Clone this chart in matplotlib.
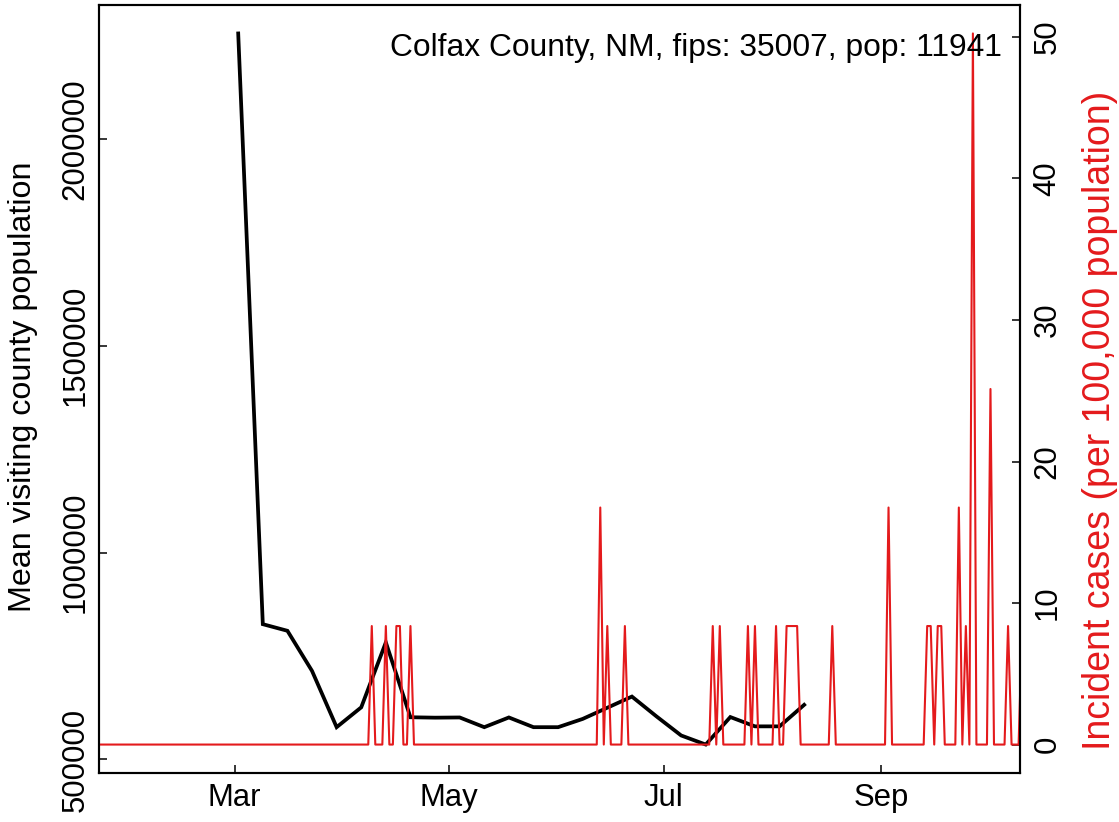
import matplotlib
matplotlib.use('Agg')
import matplotlib.pyplot as plt
import matplotlib.dates as mdates
import numpy as np
import pandas as pd

plt.rcParams['font.family'] = ['Liberation Sans', 'DejaVu Sans']

# ---------------- data ----------------
county_label = "Colfax County, NM, fips: 35007, pop: 11941"
population = 11941

# weekly mean visiting county population (black line)
week_dates = pd.to_datetime([
    '2020-03-02', '2020-03-09', '2020-03-16', '2020-03-23', '2020-03-30',
    '2020-04-06', '2020-04-13', '2020-04-20', '2020-04-27', '2020-05-04',
    '2020-05-11', '2020-05-18', '2020-05-25', '2020-06-01', '2020-06-08',
    '2020-06-15', '2020-06-22', '2020-06-29', '2020-07-06', '2020-07-13',
    '2020-07-20', '2020-07-27', '2020-08-03', '2020-08-10'])
mean_visiting_pop = [
    2255000, 827000, 811000, 714000, 578000,
    626000, 783000, 602000, 601000, 601500,
    578000, 601500, 578000, 578000, 598000,
    625000, 652000, 604000, 558000, 536000,
    602500, 580000, 580000, 632000]

# daily new cases (red line); days not listed had zero new cases
case_start = '2020-01-22'
case_end = '2020-10-11'
case_days = pd.to_datetime([
    '2020-04-09', '2020-04-13', '2020-04-16', '2020-04-17', '2020-04-20',
    '2020-06-13', '2020-06-15', '2020-06-20',
    '2020-07-15', '2020-07-17', '2020-07-25', '2020-07-27',
    '2020-08-02', '2020-08-05', '2020-08-06', '2020-08-07', '2020-08-08',
    '2020-08-18',
    '2020-09-03', '2020-09-14', '2020-09-15', '2020-09-17', '2020-09-18',
    '2020-09-23', '2020-09-25', '2020-09-27', '2020-10-02', '2020-10-07',
    '2020-10-11'])
case_counts = [
    1, 1, 1, 1, 1,
    2, 1, 1,
    1, 1, 1, 1,
    1, 1, 1, 1, 1,
    1,
    2, 1, 1, 1, 1,
    2, 1, 6, 3, 1,
    1]

left_ticks = [500000, 1000000, 1500000, 2000000]
right_ticks = [0, 10, 20, 30, 40, 50]
month_ticks = pd.to_datetime(['2020-03-01', '2020-05-01', '2020-07-01', '2020-09-01'])
month_labels = ['Mar', 'May', 'Jul', 'Sep']

# ---------------- build series ----------------
all_days = pd.date_range(case_start, case_end, freq='D')
daily = pd.Series(0.0, index=all_days)
daily.loc[case_days] = case_counts
incidence = daily.values * 100000.0 / population

# ---------------- figure ----------------
W, H = 1119, 822
fig = plt.figure(figsize=(W / 100, H / 100), dpi=100)
L, R, T, B = 99, 1020, 5, 773
ax = fig.add_axes([L / W, 1 - B / H, (R - L) / W, (B - T) / H])

FS = 22.4
red = '#E41A1C'

ax.plot(week_dates, mean_visiting_pop, color='black', lw=2.7, solid_joinstyle='miter', zorder=3)

ax2 = ax.twinx()
ax2.plot(all_days, incidence, color=red, lw=1.5)

# x limits
x0 = pd.Timestamp(case_start) + pd.Timedelta(hours=9.6)
x1 = pd.Timestamp(case_start) + pd.Timedelta(days=262, hours=9.6)
ax.set_xlim(x0, x1)

# y limits, R-style 4% expansion
lo, hi = min(mean_visiting_pop), max(mean_visiting_pop)
pad = 0.04 * (hi - lo)
ax.set_ylim(lo - pad, hi + pad)
rhi = incidence.max()
ax2.set_ylim(-0.04 * rhi, rhi * 1.04)

ax.set_xticks(month_ticks)
ax.set_xticklabels(month_labels)
ax.set_yticks(left_ticks)
ax.set_yticklabels([str(v) for v in left_ticks], rotation=90, va='center')
ax2.set_yticks(right_ticks)
ax2.set_yticklabels([str(v) for v in right_ticks], rotation=90, va='center')

for a in (ax, ax2):
    a.tick_params(direction='in', length=5.8, width=1.1, labelsize=FS, colors='black')
    for s in a.spines.values():
        s.set_linewidth(1.5)
ax.tick_params(axis='x', pad=7)
ax.tick_params(axis='y', pad=6)
ax2.tick_params(axis='y', pad=9)

fig.text(1002 / W, 1 - 56 / H, county_label, ha='right', va='baseline', fontsize=22.9)
fig.text(23.5 / W, 1 - 387 / H, 'Mean visiting county population', rotation=90,
         ha='center', va='center', fontsize=23.2)
fig.text(1100 / W, 1 - 420 / H, 'Incident cases (per 100,000 population)', rotation=90,
         ha='center', va='center', fontsize=27.0, color=red)

fig.savefig('out.png', dpi=100)
